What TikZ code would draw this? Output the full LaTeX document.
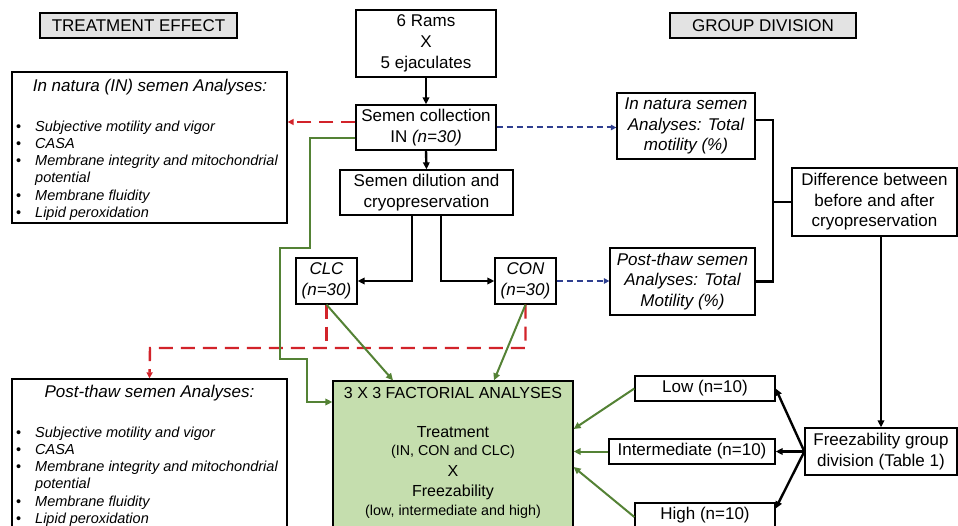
\documentclass[tikz,border=0pt]{standalone}
\usepackage{fontspec}
\setmainfont{Liberation Sans}
\usetikzlibrary{arrows.meta}
\definecolor{myred}{HTML}{D2232A}
\definecolor{myblue}{HTML}{2E3F8F}
\definecolor{mygreen}{HTML}{548235}
\definecolor{myfill}{HTML}{C5DEAE}
\definecolor{mygray}{HTML}{E3E3E3}
\tikzset{
  box/.style={draw=black, line width=1.3pt, inner sep=0pt, align=center, font=\fontsize{17}{20.5}\selectfont},
  ibox/.style={box, font=\fontsize{17}{20.5}\selectfont\itshape},
  hdr/.style={box, fill=mygray, minimum height=25pt},
  blist/.style={inner sep=0pt, align=left, anchor=north west, font=\fontsize{14.5}{17.2}\selectfont\itshape},
  bdots/.style={inner sep=0pt, align=left, anchor=north west, font=\fontsize{14.5}{17.2}\selectfont},
  ttl/.style={inner sep=0pt, font=\fontsize{17}{20}\selectfont\itshape},
  ftxt/.style={inner sep=0pt, font=\fontsize{16}{19}\selectfont},
  fsmall/.style={inner sep=0pt, font=\fontsize{14.3}{17}\selectfont},
  blk/.style={draw=black, line width=2.4pt, -{Triangle[length=7pt,width=6.5pt]}},
  blkline/.style={draw=black, line width=2.4pt},
  grn/.style={draw=mygreen, line width=2pt, -{Triangle[length=7pt,width=6.5pt]}},
  reddash/.style={draw=myred, line width=2.4pt, dash pattern=on 14pt off 8pt},
  bluedash/.style={draw=myblue, line width=2pt, dash pattern=on 6pt off 4pt, -{Triangle[length=5.5pt,width=5.5pt]}},
}
\begin{document}
\begin{tikzpicture}[x=1pt,y=-1pt]
\useasboundingbox (0,0) rectangle (958,526);

% headers
\node[hdr, minimum width=197pt] (te) at (138.5,25.5) {TREATMENT EFFECT};
\node[hdr, minimum width=186pt] (gd) at (763,25.5) {GROUP DIVISION};

% central column
\node[box, minimum width=140pt, minimum height=67pt, font=\fontsize{17}{21}\selectfont] (rams) at (426,43.5) {6 Rams\\X\\5 ejaculates};
\node[box, minimum width=140pt, minimum height=45pt] (coll) at (426,127.5) {Semen collection\\IN \textit{(n=30)}};
\node[box, minimum width=173pt, minimum height=45pt] (dil) at (426.5,192.5) {Semen dilution and\\cryopreservation};
\node[ibox, minimum width=61pt, minimum height=46pt] (clc) at (326.5,281) {CLC\\(n=30)};
\node[ibox, minimum width=61pt, minimum height=46pt] (con) at (525.5,281) {CON\\(n=30)};

% right column
\node[ibox, minimum width=138pt, minimum height=66pt] (inat) at (686,126) {In natura semen\\Analyses: Total\\motility (\%)};
\node[ibox, minimum width=145pt, minimum height=67pt] (pt) at (682.5,281.5) {Post-thaw semen\\Analyses: Total\\Motility (\%)};
\node[box, minimum width=165pt, minimum height=68pt] (diff) at (874.5,202) {Difference between\\before and after\\cryopreservation};
\node[box, minimum width=152pt, minimum height=47pt] (frz) at (881,451.5) {Freezability group\\division (Table 1)};
\node[box, minimum width=140pt, minimum height=25pt] (low) at (705,388.5) {Low (n=10)};
\node[box, minimum width=166pt, minimum height=25pt] (int) at (692,451.5) {Intermediate (n=10)};
\node[box, minimum width=140pt, minimum height=25pt] (high) at (705,515.5) {High (n=10)};

% factorial box
\node[box, fill=myfill, minimum width=240pt, minimum height=160pt] (fact) at (453,461) {};
\node[ftxt] (f1) at (453,393) {3 X 3 FACTORIAL ANALYSES};
\node[ftxt] (f2) at (453,432.5) {Treatment};
\node[fsmall] (f3) at (453,452) {(IN, CON and CLC)};
\node[ftxt] (f4) at (453,471) {X};
\node[ftxt] (f5) at (453,492) {Freezability};
\node[fsmall] (f6) at (453,512) {(low, intermediate and high)};

% left analysis boxes
\node[box, minimum width=275pt, minimum height=151pt] (inIN) at (149.5,147.5) {};
\node[ttl] (inINt) at (150,87) {In natura (IN) semen Analyses:};
\node[bdots] (inINb) at (16,119) {\strut\textbullet\\\textbullet\\\textbullet\\\mbox{}\\\textbullet\\\textbullet};
\node[blist] (inINl) at (35,119) {\strut Subjective motility and vigor\\CASA\\Membrane integrity and mitochondrial\\potential\\Membrane fluidity\\Lipid peroxidation};

\node[box, minimum width=275pt, minimum height=160pt] (ptL) at (149.5,459) {};
\node[ttl] (ptLt) at (149.5,393.5) {Post-thaw semen Analyses:};
\node[bdots] (ptLb) at (16,425) {\strut\textbullet\\\textbullet\\\textbullet\\\mbox{}\\\textbullet\\\textbullet};
\node[blist] (ptLl) at (35,425) {\strut Subjective motility and vigor\\CASA\\Membrane integrity and mitochondrial\\potential\\Membrane fluidity\\Lipid peroxidation};

% black flow
\draw[blk] (rams.south) -- (coll.north);
\draw[blk] (coll.south) -- (dil.north);
\draw[blk] ([xshift=-14.5pt]dil.south) |- (clc.east);
\draw[blk] ([xshift=14.5pt]dil.south) |- (con.west);

% bracket
\coordinate (bx) at (773,202);
\draw[blkline] ([yshift=6pt]inat.east) -| (bx) |- (pt.east);
\draw[blkline] (bx) -- (diff.west);
\draw[blk] (frz.north |- diff.south) -- (frz.north);
\draw[blk] (frz.west) -- (low.east);
\draw[blk] (frz.west) -- (int.east);
\draw[blk] (frz.west) -- ([yshift=7pt]high.east);

% blue dashed
\draw[bluedash] (coll.east) -- (coll.east -| inat.west);
\draw[bluedash] (con.east) -- (con.east -| pt.west);

% red dashed
\draw[reddash, -{Triangle[length=6pt,width=6pt]}] ([yshift=5.5pt]coll.west) -- ([yshift=5.5pt]coll.west -| inIN.east);
\coordinate (rb) at (150,348);
\draw[reddash, -{Triangle[length=6pt,width=6pt]}] (con.south) |- (rb) -- (ptL.north);
\draw[reddash] (clc.south) -- (clc.south |- rb);

% green
\coordinate (g1) at (310,248);
\coordinate (g2) at (280,359);
\coordinate (g3) at (307,402);
\draw[grn] ([yshift=-10.5pt]coll.west) -| (g1) -| (g2) -| (g3) -- (g3 -| fact.west);
\draw[grn] (clc.south) -- ([xshift=-60pt]fact.north);
\draw[grn] (con.south) -- ([xshift=41pt]fact.north);
\draw[grn] (low.west) -- ([yshift=32pt]fact.east);
\draw[grn] (int.west) -- ([yshift=9.5pt]fact.east);
\draw[grn] ([yshift=-1.5pt]high.west) -- ([yshift=-6pt]fact.east);
\end{tikzpicture}
\end{document}
